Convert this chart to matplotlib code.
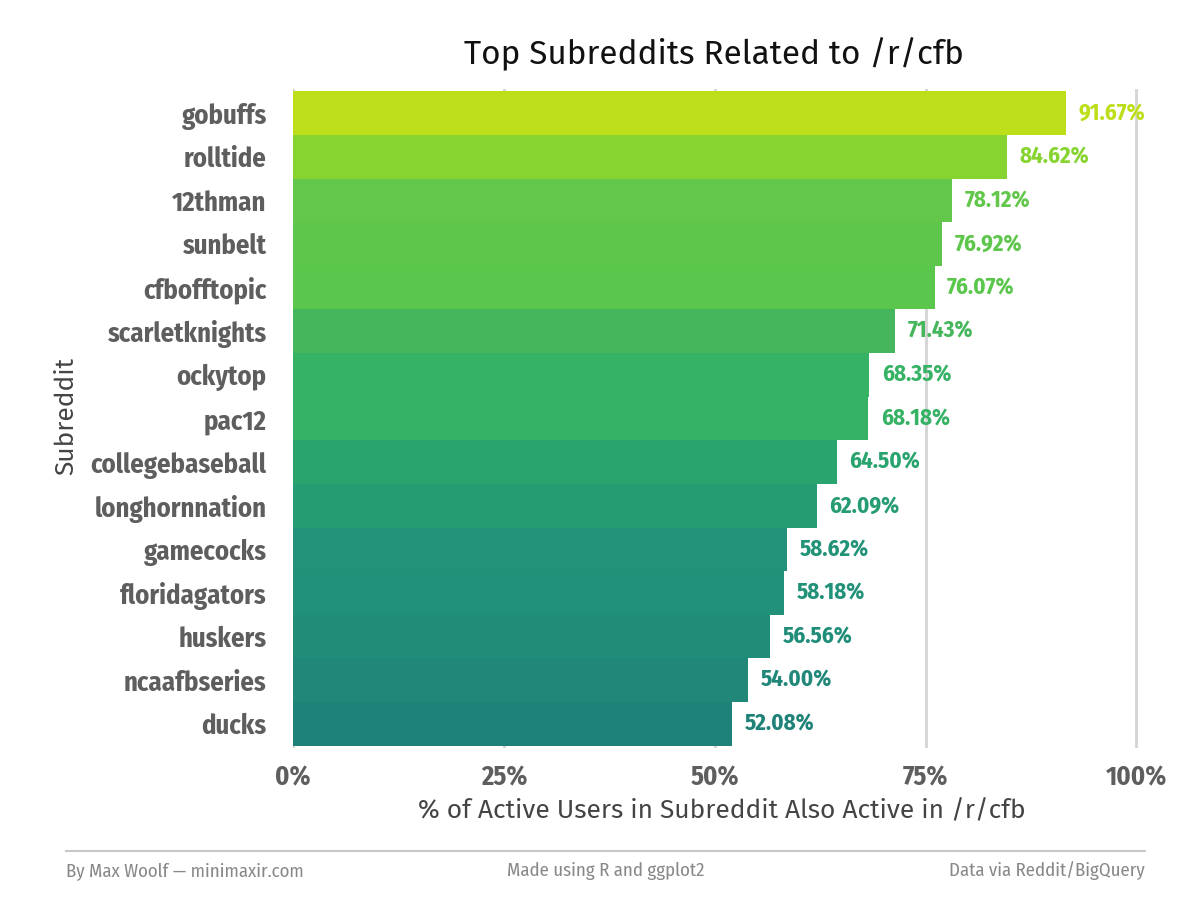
import matplotlib
matplotlib.use('Agg')
import numpy as np
import matplotlib.pyplot as plt
from matplotlib.colors import LinearSegmentedColormap, Normalize
from matplotlib.ticker import FuncFormatter

# dados (de cima para baixo)
subreddits = ['gobuffs', 'rolltide', '12thman', 'sunbelt', 'cfbofftopic',
              'scarletknights', 'ockytop', 'pac12', 'collegebaseball',
              'longhornnation', 'gamecocks', 'floridagators', 'huskers',
              'ncaafbseries', 'ducks']
pct = [91.67, 84.62, 78.12, 76.92, 76.07, 71.43, 68.35, 68.18, 64.50,
       62.09, 58.62, 58.18, 56.56, 54.00, 52.08]
xticks = [0, 25, 50, 75, 100]

# escala de cores (verde-azulado -> verde-limão)
cmap = LinearSegmentedColormap.from_list('cfb', [
    (0.00, '#1F8278'), (0.15, '#21917A'), (0.31, '#29A36E'),
    (0.41, '#36B264'), (0.49, '#45B65B'), (0.61, '#5AC64C'),
    (0.66, '#62C74A'), (0.82, '#86D430'), (1.00, '#BCDF1A')])
norm = Normalize(min(pct), max(pct))

cond = ['Fira Sans Condensed', 'DejaVu Sans']
texto = ['Fira Sans', 'DejaVu Sans']
gray = '#5E5E5E'

fig = plt.figure(figsize=(12, 9), dpi=100)
ax = fig.add_axes([0.2442, 0.169, 0.714, 0.732])

y = np.arange(len(pct))[::-1]
cores = [cmap(norm(v)) for v in pct]
ax.barh(y, pct, height=1.0, color=cores, zorder=2)

for yi, v, c in zip(y, pct, cores):
    ax.text(v + 1.5, yi, f'{v:.2f}%', va='center', ha='left', color=c,
            fontsize=16.5, fontweight='bold', family=cond)

ax.set_xlim(0, 101.6)
ax.set_ylim(-0.55, len(pct) - 0.45)
ax.set_xticks(xticks)
ax.xaxis.set_major_formatter(FuncFormatter(lambda v, p: f'{v:.0f}%'))
ax.set_yticks(y)
ax.set_yticklabels(subreddits)
for lab in ax.get_xticklabels() + ax.get_yticklabels():
    lab.set_family(cond)
    lab.set_fontweight('bold')
    lab.set_color(gray)
    lab.set_fontsize(19.2)
ax.tick_params(axis='both', length=0)
ax.tick_params(axis='y', pad=19)
ax.tick_params(axis='x', pad=12)

ax.grid(axis='x', color='#D4D4D4', linewidth=2, zorder=0)
ax.set_axisbelow(True)
for s in ax.spines.values():
    s.set_visible(False)

ax.set_xlabel('% of Active Users in Subreddit Also Active in /r/cfb',
              fontsize=19, color='#444444', family=texto, labelpad=5)
fig.text(66/1200, 1 - 416/900, 'Subreddit', rotation=90, ha='center', va='center',
         fontsize=19, color='#444444', family=texto)

fig.text(0.595, 0.94, 'Top Subreddits Related to /r/cfb', ha='center', va='center',
         fontsize=24, color='#111111', family=texto)

# rodapé
fig.add_artist(plt.Line2D([66/1200, 1145/1200], [1 - 851/900] * 2,
                          color='#C8C8C8', linewidth=1.5))
rod_y = 1 - 871/900
for xf, ha, txt in [(66/1200, 'left', 'By Max Woolf — minimaxir.com'),
                    (606/1200, 'center', 'Made using R and ggplot2'),
                    (1145/1200, 'right', 'Data via Reddit/BigQuery')]:
    fig.text(xf, rod_y, txt, ha=ha, va='center', fontsize=13.5, color='#888888',
             family=cond)

plt.savefig('out.png', dpi=100)
